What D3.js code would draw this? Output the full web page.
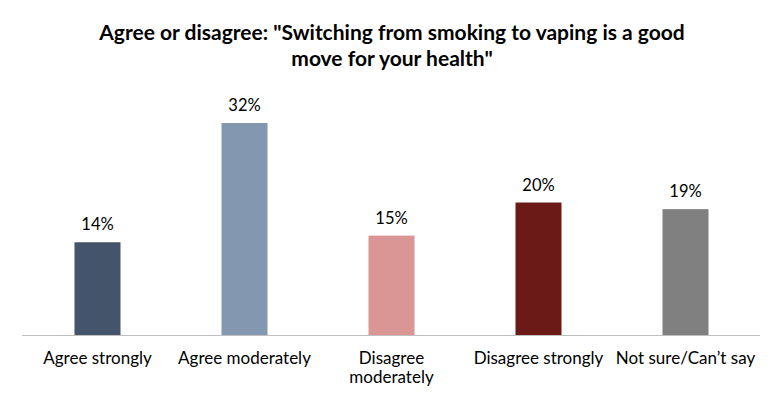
<!DOCTYPE html>
<html>
<head>
<meta charset="utf-8">
<script src="https://cdn.jsdelivr.net/npm/d3@7"></script>
<style>
  body { margin: 0; background: #fff; }
  text { font-family: Lato, "Open Sans", sans-serif; fill: #000; }
</style>
</head>
<body>
<div id="chart"></div>
<script>
// Chart data
const categories = ["Agree strongly", "Agree moderately", "Disagree moderately", "Disagree strongly", "Not sure/Can\u2019t say"];
const catLines = [["Agree strongly"], ["Agree moderately"], ["Disagree", "moderately"], ["Disagree strongly"], ["Not sure/Can\u2019t say"]];
const values = [14, 32, 15, 20, 19];
const colors = ["#44546A", "#8497B0", "#DA9694", "#6B1A17", "#808080"];
const titleLines = ["Agree or disagree: \"Switching from smoking to vaping is a good", "move for your health\""];

const width = 784;
const height = 397;

const svg = d3.select("#chart")
    .append("svg")
    .attr("width", width)
    .attr("height", height);

const x = d3.scaleBand()
    .domain(categories)
    .range([24, 759])
    .paddingInner(0.687)
    .paddingOuter(0.3435);

const y = d3.scaleLinear()
    .domain([0, 32])
    .range([335, 123]);

// Title
svg.append("text")
    .attr("x", 392)
    .attr("text-anchor", "middle")
    .style("font-weight", "bold")
    .style("font-size", "21px")
    .selectAll("tspan")
    .data(titleLines)
    .enter().append("tspan")
    .attr("x", 392)
    .attr("y", (d, i) => 40 + i * 26)
    .text(d => d);

// Bars
svg.append("g")
    .selectAll("rect")
    .data(values)
    .enter().append("rect")
    .attr("x", (d, i) => x(categories[i]))
    .attr("y", d => y(d))
    .attr("width", x.bandwidth())
    .attr("height", d => y(0) - y(d))
    .attr("fill", (d, i) => colors[i]);

// Baseline
svg.append("line")
    .attr("x1", 22)
    .attr("x2", 760)
    .attr("y1", y(0) + 0.5)
    .attr("y2", y(0) + 0.5)
    .attr("stroke", "#BFBFBF")
    .attr("stroke-width", 1);

// Value labels
svg.append("g")
    .selectAll("text")
    .data(values)
    .enter().append("text")
    .attr("x", (d, i) => x(categories[i]) + x.bandwidth() / 2)
    .attr("y", d => y(d) - 12)
    .attr("text-anchor", "middle")
    .style("font-size", "16.5px")
    .text(d => d + "%");

// Category labels
const cat = svg.append("g")
    .selectAll("text")
    .data(categories)
    .enter().append("text")
    .attr("text-anchor", "middle")
    .style("font-size", "17px");

cat.selectAll("tspan")
    .data((d, i) => catLines[i].map(t => ({ t, c: d })))
    .enter().append("tspan")
    .attr("x", d => x(d.c) + x.bandwidth() / 2)
    .attr("y", (d, i) => 364 + i * 19)
    .text(d => d.t);
</script>
</body>
</html>
